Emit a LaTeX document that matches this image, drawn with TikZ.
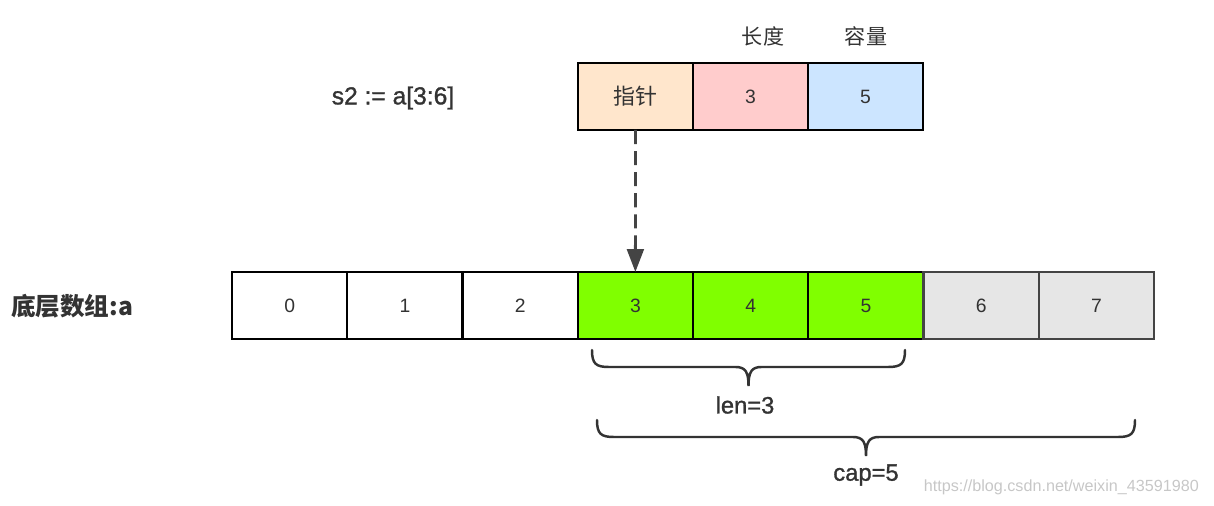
\documentclass[tikz,border=0pt]{standalone}
\usepackage{fontspec}
\setmainfont{Liberation Sans}
\newfontfamily\cjk{Noto Sans CJK SC}
\newfontfamily\demigras[FakeBold=1.2]{Liberation Sans}
\usetikzlibrary{arrows.meta}

% Couleurs
\definecolor{encre}{HTML}{333333}
\definecolor{grisFonce}{HTML}{444444}
\definecolor{fondPointeur}{HTML}{FFE6CC}
\definecolor{fondLongueur}{HTML}{FFCCCC}
\definecolor{fondCapacite}{HTML}{CCE5FF}
\definecolor{vertTranche}{HTML}{80FF00}
\definecolor{grisCase}{HTML}{E6E6E6}

% Accolade horizontale (pointe vers le bas) : x gauche, x droite, y haut
\newcommand{\accoladeBas}[3]{%
  \pgfmathsetmacro{\xMil}{(#1+#2)/2}
  \draw[accolade] (#1,#3) .. controls (#1,#3+14) and (#1+4,#3+17) .. (#1+17,#3+17)
    -- (\xMil-13,#3+17) .. controls (\xMil-3,#3+17) and (\xMil,#3+22) .. (\xMil,#3+36)
    .. controls (\xMil,#3+22) and (\xMil+3,#3+17) .. (\xMil+13,#3+17)
    -- (#2-17,#3+17) .. controls (#2-4,#3+17) and (#2,#3+14) .. (#2,#3);
}

\begin{document}
\begin{tikzpicture}[x=0.02cm,y=-0.02cm,
  cell/.style={draw=black, line width=1.3pt, minimum width=2.305cm,
    minimum height=1.34cm, inner sep=0pt, outer sep=0pt,
    font=\fontsize{11}{13}\selectfont, text=encre},
  field/.style={cell, minimum width=2.3cm},
  fleche/.style={grisFonce, line width=1.6pt, dash pattern=on 8pt off 4pt,
    -{Triangle[width=9.5pt,length=13pt]}},
  accolade/.style={encre, line width=1.4pt, line cap=round},
  etiquette/.style={text=encre, font=\demigras\fontsize{13.5}{16}\selectfont}]

  % Paramètres
  \def\xArr{232} % bord gauche du tableau
  \def\yArr{305.5} % centre vertical du tableau
  \def\cellW{115.25} % largeur d'une case
  \def\xSlice{578} % bord gauche de la tranche
  \def\ySlice{96.5}

  % Cadre de l'image
  \useasboundingbox (0,0) rectangle (1214,506);

  % Tableau sous-jacent
  \foreach \i in {0,...,7}
  {
    % Choisir les couleurs de la case
    \ifnum\i<3
      \colorlet{fondCase}{white}\colorlet{bordCase}{black}
    \else\ifnum\i<6
      \colorlet{fondCase}{vertTranche}\colorlet{bordCase}{black}
    \else
      \colorlet{fondCase}{grisCase}\colorlet{bordCase}{grisFonce}
    \fi\fi
    \pgfmathsetmacro{\xc}{\xArr + (\i+0.5)*\cellW}
    \node[cell, fill=fondCase, draw=bordCase] (a\i) at (\xc,\yArr) {\i};
  }

  % Structure de la tranche s2
  \node[field, fill=fondPointeur, font=\cjk\fontsize{12.5}{14}\selectfont] (ptr) at (\xSlice+57.5,\ySlice) {指针};
  \node[field, fill=fondLongueur] (lenf) at (\xSlice+172.5,\ySlice) {3};
  \node[field, fill=fondCapacite] (capf) at (\xSlice+287.5,\ySlice) {5};

  % Titres des champs
  \node[text=encre, font=\cjk\fontsize{12}{14}\selectfont] (tLen) at (763,36) {长度};
  \node[text=encre, font=\cjk\fontsize{12}{14}\selectfont] (tCap) at (866,36) {容量};

  % Libellés à gauche
  \node[etiquette, font=\demigras\fontsize{14}{17}\selectfont] (decl) at (393,98) {s2 := a[3:6]};
  \node[text=encre, font=\cjk\bfseries\fontsize{14}{17}\selectfont] (base) at (72,306) {底层数组:a};

  % Pointeur vers a[3]
  \draw[fleche] (ptr.south) -- (a3.north);

  % Accolades len et cap
  \accoladeBas{592}{905}{350}
  \accoladeBas{597}{1135}{420}
  \node[etiquette] (lenTxt) at (745,405) {len=3};
  \node[etiquette] (capTxt) at (866,475) {cap=5};

  % Filigrane
  \node[anchor=east, text=black!22, font=\fontsize{9.2}{11}\selectfont] (filigrane) at (1205,487) {https://blog.csdn.net/weixin\_43591980};
\end{tikzpicture}
\end{document}
